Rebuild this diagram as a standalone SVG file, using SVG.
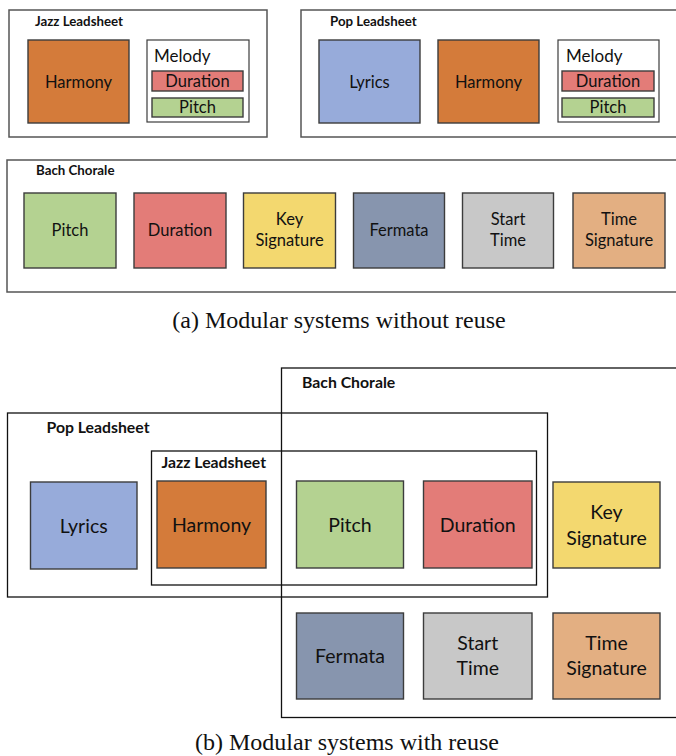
<svg xmlns="http://www.w3.org/2000/svg" width="676" height="756" viewBox="0 0 676 756">
<style>
  .panelA { fill: none; stroke: #555; stroke-width: 1.5; }
  .panelB { fill: none; stroke: #111; stroke-width: 1.3; }
  .box { stroke: #3c3c3c; stroke-width: 1.4; }
  .white { fill: #fff; stroke: #3c3c3c; stroke-width: 1.2; }
  .harmony { fill: #D47B3A; }
  .lyrics { fill: #97ABDA; }
  .pitch { fill: #B4D291; }
  .duration { fill: #E37C78; }
  .key { fill: #F3D86F; }
  .fermata { fill: #8795AE; }
  .start { fill: #C8C8C8; }
  .timesig { fill: #E3AF82; }
  text { font-family: Lato, "Open Sans", sans-serif; fill: #111; }
  .lblA { font-size: 16.5px; text-anchor: middle; }
  .lblM { font-size: 17px; }
  .lblB { font-size: 19.5px; text-anchor: middle; }
  .titleA { font-size: 13.3px; font-weight: bold; }
  .titleB { font-size: 15.8px; font-weight: bold; }
  .caption { font-family: "Liberation Serif", serif; font-size: 24px; text-anchor: middle; }
</style>
<rect width="676" height="756" fill="#fff"/>

<!-- (a) Jazz Leadsheet -->
<g id="a-jazz">
  <rect class="panelA" x="9" y="10" width="258" height="127"/>
  <text class="titleA" x="35" y="26">Jazz Leadsheet</text>
  <g id="a-jazz-harmony"><rect class="box harmony" x="28" y="40" width="101" height="83"/><text class="lblA" x="78.5" y="88">Harmony</text></g>
  <g id="a-jazz-melody">
    <rect class="white" x="147" y="40" width="102" height="82"/>
    <text class="lblM" x="154" y="62">Melody</text>
    <rect class="box duration" x="152" y="71" width="91" height="20"/><text class="lblA" x="197.5" y="87">Duration</text>
    <rect class="box pitch" x="152" y="98" width="91" height="19"/><text class="lblA" x="197.5" y="113">Pitch</text>
  </g>
</g>

<!-- (a) Pop Leadsheet -->
<g id="a-pop">
  <rect class="panelA" x="301" y="10" width="385" height="127"/>
  <text class="titleA" x="330" y="26">Pop Leadsheet</text>
  <g id="a-pop-lyrics"><rect class="box lyrics" x="319" y="40" width="101" height="83"/><text class="lblA" x="369.5" y="88">Lyrics</text></g>
  <g id="a-pop-harmony"><rect class="box harmony" x="438" y="40" width="101" height="83"/><text class="lblA" x="488.5" y="88">Harmony</text></g>
  <g id="a-pop-melody">
    <rect class="white" x="558" y="40" width="101" height="82"/>
    <text class="lblM" x="566" y="62">Melody</text>
    <rect class="box duration" x="562" y="71" width="92" height="20"/><text class="lblA" x="608" y="87">Duration</text>
    <rect class="box pitch" x="562" y="98" width="92" height="19"/><text class="lblA" x="608" y="113">Pitch</text>
  </g>
</g>

<!-- (a) Bach Chorale -->
<g id="a-bach">
  <rect class="panelA" x="7" y="160" width="680" height="132"/>
  <text class="titleA" x="36" y="175">Bach Chorale</text>
  <g id="a-bach-pitch"><rect class="box pitch" x="24" y="193" width="92" height="75"/><text class="lblA" x="70" y="236">Pitch</text></g>
  <g id="a-bach-duration"><rect class="box duration" x="134" y="193" width="92" height="75"/><text class="lblA" x="180" y="236">Duration</text></g>
  <g id="a-bach-key"><rect class="box key" x="243.5" y="193" width="92" height="75"/><text class="lblA" x="289.5" y="225">Key</text><text class="lblA" x="289.5" y="246">Signature</text></g>
  <g id="a-bach-fermata"><rect class="box fermata" x="353.5" y="193" width="91" height="75"/><text class="lblA" x="399" y="236">Fermata</text></g>
  <g id="a-bach-start"><rect class="box start" x="462.5" y="193" width="91" height="75"/><text class="lblA" x="508" y="225">Start</text><text class="lblA" x="508" y="246">Time</text></g>
  <g id="a-bach-timesig"><rect class="box timesig" x="573" y="193" width="92" height="75"/><text class="lblA" x="619" y="225">Time</text><text class="lblA" x="619" y="246">Signature</text></g>
</g>

<text class="caption" x="339" y="328">(a) Modular systems without reuse</text>

<!-- (b) containers -->
<g id="b-containers">
  <rect id="b-bach" class="panelB" x="281.5" y="368" width="420" height="349.5"/>
  <text class="titleB" x="302" y="388">Bach Chorale</text>
  <rect id="b-pop" class="panelB" x="7.5" y="413" width="540" height="184"/>
  <text class="titleB" x="46.5" y="433">Pop Leadsheet</text>
  <rect id="b-jazz" class="panelB" x="151.5" y="451" width="385" height="134"/>
  <text class="titleB" x="161.5" y="468">Jazz Leadsheet</text>
</g>

<g id="b-lyrics"><rect class="box lyrics" x="30.5" y="482" width="106.5" height="87"/><text class="lblB" x="83.75" y="533">Lyrics</text></g>
<g id="b-harmony"><rect class="box harmony" x="157" y="481" width="109" height="87"/><text class="lblB" x="211.5" y="532">Harmony</text></g>
<g id="b-pitch"><rect class="box pitch" x="296.5" y="481" width="107" height="87"/><text class="lblB" x="350" y="532">Pitch</text></g>
<g id="b-duration"><rect class="box duration" x="423.5" y="481" width="108.5" height="87"/><text class="lblB" x="477.75" y="532">Duration</text></g>
<g id="b-key"><rect class="box key" x="553" y="482" width="107" height="86"/><text class="lblB" x="606.5" y="519">Key</text><text class="lblB" x="606.5" y="545">Signature</text></g>
<g id="b-fermata"><rect class="box fermata" x="296.5" y="613" width="107" height="86"/><text class="lblB" x="350" y="663">Fermata</text></g>
<g id="b-start"><rect class="box start" x="423.5" y="613" width="108.5" height="86"/><text class="lblB" x="477.75" y="650">Start</text><text class="lblB" x="477.75" y="675">Time</text></g>
<g id="b-timesig"><rect class="box timesig" x="553" y="613" width="107" height="86"/><text class="lblB" x="606.5" y="650">Time</text><text class="lblB" x="606.5" y="675">Signature</text></g>

<g id="connectors"></g>

<text class="caption" x="347" y="750">(b) Modular systems with reuse</text>
</svg>
